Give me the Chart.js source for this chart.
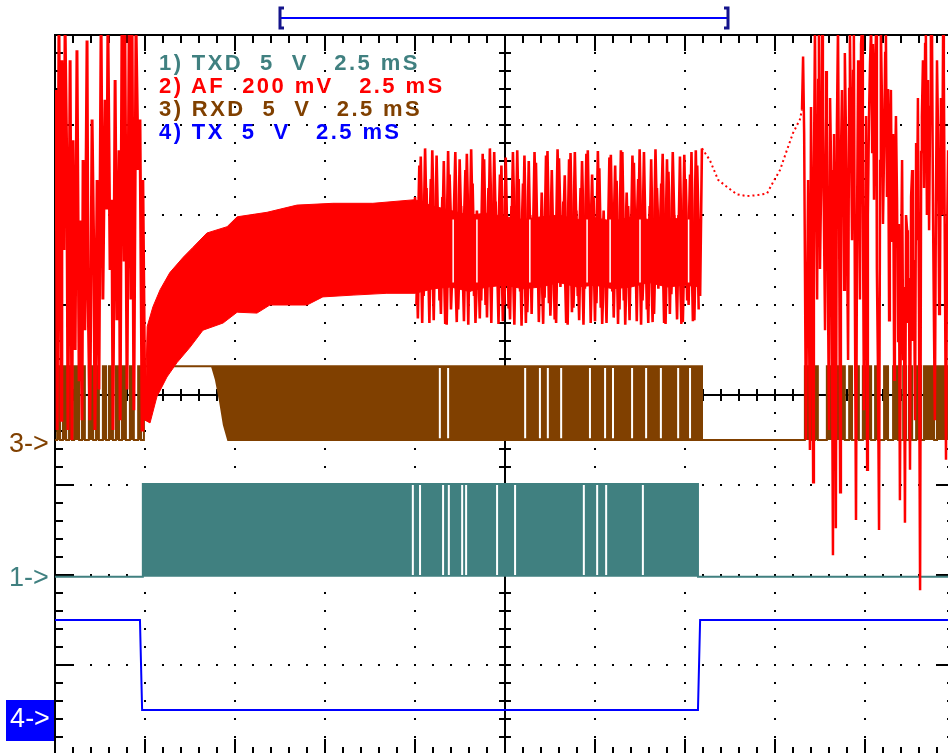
<!DOCTYPE html>
<html>
<head>
<meta charset="utf-8">
<title>TXD / AF / RXD / TX</title>
<script src="https://cdn.jsdelivr.net/npm/chart.js@4.4.1/dist/chart.umd.min.js"></script>
<style>
    html, body { margin: 0; padding: 0; background: #fff; }
    #scope { position: relative; width: 948px; height: 753px; overflow: hidden; background: #fff; }
    #scopeChart { position: absolute; left: 0; top: 0; }
    .legendRow {
        position: absolute; left: 159px;
        font: bold 22px "Liberation Sans", Arial, sans-serif;
        letter-spacing: 2.4px; line-height: 23px; white-space: pre;
    }
    .marker {
        position: absolute; left: 9px;
        font: 27px "Liberation Sans", Arial, sans-serif;
        line-height: 26px; white-space: pre;
    }
    #marker4 {
        left: 6px; top: 700px; width: 48px; height: 41px;
        background: #0000ff; color: #fff; text-align: center; line-height: 36px;
    }
</style>
</head>
<body>
<div id="scope">
    <canvas id="scopeChart" width="960" height="760"></canvas>
    <div id="legendBox"></div>
    <div class="marker" style="top: 430px; color: #804000;">3-&gt;</div>
    <div class="marker" style="top: 564px; color: #408080;">1-&gt;</div>
    <div class="marker" id="marker4">4-&gt;</div>
</div>

<script>
// x = time in mS (2.5 mS / div), y = screen divisions (0 = centre line)

const channelLabels = [
    "1) TXD  5  V   2.5 mS",
    "2) AF  200 mV   2.5 mS",
    "3) RXD  5  V   2.5 mS",
    "4) TX  5  V   2.5 mS"
];

// TX keying (ch4)
const txTrace = [[0, -2.5], [2.36, -2.5], [2.42, -3.5], [17.86, -3.5], [17.92, -2.5], [25, -2.5]];

// TXD data burst (ch1)
const txdTrace = [[0, -2.02], [2.44, -2.02], [2.44, -0.99], [17.86, -0.99], [17.86, -2.02], [25, -2.02]];
const txdGaps = [9.94, 10.14, 10.78, 10.94, 11.31, 11.42, 12.28, 12.78, 14.69, 15.06, 15.31, 16.33];

// RXD (ch3) edges, level holds until the next edge
const rxdEdgesBefore = [
    [0, -0.5], [0.06, 0.32], [0.14, -0.5], [0.22, 0.32], [0.31, -0.5], [0.39, 0.32], [0.47, -0.5],
    [0.53, 0.32], [0.67, -0.5], [0.75, 0.32], [0.83, -0.5], [0.94, 0.32], [1.06, -0.5], [1.14, 0.32],
    [1.22, -0.5], [1.33, 0.32], [1.42, -0.5], [1.5, 0.32], [1.61, -0.5], [1.69, 0.32], [1.78, -0.5],
    [1.86, 0.32], [1.97, -0.5], [2.08, 0.32], [2.19, -0.5], [2.31, 0.32], [2.39, -0.5], [2.47, 0.32]
];
const rxdIdle = [[2.47, 0.32], [4.36, 0.32]];
const rxdEdgesAfter = [
    [18.0, -0.5], [20.83, 0.32], [21.03, -0.5], [21.11, 0.32], [21.19, -0.5], [21.44, 0.32],
    [21.94, -0.5], [22.06, 0.32], [22.14, -0.5], [22.25, 0.32], [22.33, -0.5], [22.44, 0.32],
    [22.67, -0.5], [22.78, 0.32], [22.86, -0.5], [23.03, 0.32], [23.14, -0.5], [23.28, 0.32],
    [23.42, -0.5], [23.56, 0.32], [23.64, -0.5], [23.72, 0.32], [23.81, -0.5], [23.92, 0.32],
    [24.06, -0.5], [24.14, 0.32], [24.42, -0.5], [24.5, 0.32], [25, 0.32]
];
const rxdBandTop = [[4.36, 0.32], [18.0, 0.32]];
const rxdBandBottom = [[4.36, 0.32], [4.47, 0.17], [4.58, -0.06], [4.69, -0.33], [4.81, -0.5], [18.0, -0.5]];
const rxdGaps = [10.69, 10.92, 13.06, 13.47, 13.69, 14.06, 14.86, 15.28, 15.5, 16.03, 16.42, 16.83, 17.31, 17.64];

// AF (ch2) - noise before the burst
const afOnset = [
    [0.03, 3.39], [0.06, -0.39], [0.11, 4.1], [0.17, -0.28], [0.19, 3.72], [0.25, 1.61], [0.28, 4.1],
    [0.33, 2.5], [0.36, -0.39], [0.42, 3.72], [0.47, -0.5], [0.5, 2.83], [0.56, 0.5], [0.61, 3.83],
    [0.67, 0.17], [0.69, 1.94], [0.75, -0.28], [0.78, 2.61], [0.83, 0.72], [0.89, 3.94], [0.92, 1.06],
    [0.97, -0.28], [1.03, 3.06], [1.08, 1.5], [1.11, -0.39], [1.17, 2.39], [1.22, 0.06], [1.28, 4.1],
    [1.33, 1.06], [1.39, 3.28], [1.44, 2.06], [1.47, 4.1], [1.53, 1.39], [1.58, 2.17], [1.61, -0.39],
    [1.67, 3.5], [1.72, 0.83], [1.78, 2.72], [1.81, -0.28], [1.86, 4.1], [1.92, 1.5], [1.94, 4.1],
    [2.0, 0.06], [2.06, 4.1], [2.11, 1.06], [2.14, 4.1], [2.19, -0.17], [2.25, 4.1], [2.31, 2.5],
    [2.36, 3.06], [2.42, -0.39], [2.44, 2.39], [2.5, -0.28]
];

// AF tone envelope while the carrier settles
const afEnvTop = [
    [2.5, -0.28], [2.56, 0.76], [2.72, 0.98], [2.92, 1.17], [3.19, 1.36], [3.56, 1.53], [3.83, 1.64],
    [4.22, 1.8], [4.78, 1.87], [5.06, 1.98], [5.89, 2.03], [6.72, 2.11], [7.72, 2.13], [8.83, 2.13], [10.0, 2.17]
];
const afEnvBottom = [
    [2.5, -0.28], [2.64, -0.31], [2.83, -0.02], [3.11, 0.2], [3.39, 0.36], [3.75, 0.53], [4.11, 0.72],
    [4.67, 0.8], [5.06, 0.92], [5.61, 0.91], [5.97, 1.0], [7.0, 1.0], [7.44, 1.09], [8.28, 1.11],
    [9.22, 1.13], [10.0, 1.13]
];

// AF during data: solid core plus two interleaved runs of peaks
const afCoreTop = [
    [10.0, 2.17], [10.5, 2.1], [11.0, 2.05], [11.5, 2.0], [12.0, 2.02], [12.5, 1.98], [13.0, 1.95],
    [13.5, 1.98], [14.0, 2.0], [14.5, 1.95], [15.0, 1.97], [15.5, 1.93], [16.0, 1.98], [16.5, 1.95],
    [17.0, 1.97], [17.5, 1.95], [17.92, 1.9]
];
const afCoreBottom = [
    [10.0, 1.13], [10.5, 1.18], [11.0, 1.2], [11.5, 1.15], [12.0, 1.2], [12.5, 1.22], [13.0, 1.18],
    [13.5, 1.2], [14.0, 1.25], [14.5, 1.2], [15.0, 1.22], [15.5, 1.18], [16.0, 1.2], [16.5, 1.25],
    [17.0, 1.2], [17.5, 1.22], [17.92, 1.2]
];
const afCoreGaps = [11.06, 11.72, 13.19, 14.78, 15.42, 16.25, 17.6];
const afBurst = [
    [10.00, 2.20], [10.08, 0.85], [10.16, 2.65], [10.24, 1.10], [10.32, 2.30], [10.40, 0.80], [10.48, 2.72],
    [10.56, 1.25], [10.64, 1.95], [10.72, 0.90], [10.80, 2.60], [10.88, 0.78], [10.96, 2.45], [11.04, 1.35],
    [11.12, 2.70], [11.20, 0.95], [11.28, 2.10], [11.36, 0.82], [11.44, 2.68], [11.52, 1.15], [11.60, 2.35],
    [11.68, 0.80], [11.76, 1.80], [11.84, 1.05], [11.92, 2.62], [12.00, 0.86], [12.08, 2.74], [12.16, 1.30],
    [12.24, 2.15], [12.32, 0.79], [12.40, 2.55], [12.48, 1.00], [12.56, 1.90], [12.64, 0.84], [12.72, 2.70],
    [12.80, 1.20], [12.88, 2.40], [12.96, 0.77], [13.04, 2.66], [13.12, 0.92], [13.20, 2.00], [13.28, 1.40],
    [13.36, 2.58], [13.44, 0.81], [13.52, 2.25], [13.60, 1.08], [13.68, 2.71], [13.76, 0.88], [13.84, 1.75],
    [13.92, 0.80], [14.00, 2.63], [14.08, 1.28], [14.16, 2.44], [14.24, 0.78], [14.32, 2.69], [14.40, 0.97],
    [14.48, 2.05], [14.56, 0.83], [14.64, 2.60], [14.72, 1.18], [14.80, 2.72], [14.88, 0.80], [14.96, 2.20],
    [15.04, 1.02], [15.12, 2.52], [15.20, 0.79], [15.28, 1.85], [15.36, 1.33], [15.44, 2.67], [15.52, 0.86],
    [15.60, 2.38], [15.68, 0.95], [15.76, 2.70], [15.84, 0.78], [15.92, 2.10], [16.00, 1.22], [16.08, 2.58],
    [16.16, 0.82], [16.24, 2.73], [16.32, 1.05], [16.40, 1.95], [16.48, 0.80], [16.56, 2.62], [16.64, 0.90],
    [16.72, 2.30], [16.80, 1.36], [16.88, 2.68], [16.96, 0.79], [17.04, 2.48], [17.12, 1.12], [17.20, 2.00],
    [17.28, 0.84], [17.36, 2.65], [17.44, 0.81], [17.52, 2.40], [17.60, 1.00], [17.68, 2.70], [17.76, 0.83],
    [17.84, 2.55], [17.92, 1.10], [17.97, 2.74]
];
const afBurstB = [
    [10.04, 1.00], [10.12, 2.55], [10.20, 0.80], [10.28, 2.74], [10.36, 1.20], [10.44, 2.40], [10.52, 0.83],
    [10.60, 2.66], [10.68, 1.05], [10.76, 2.20], [10.84, 0.79], [10.92, 2.71], [11.00, 0.95], [11.08, 1.85],
    [11.16, 0.81], [11.24, 2.62], [11.32, 1.30], [11.40, 2.50], [11.48, 0.78], [11.56, 2.73], [11.64, 1.10],
    [11.72, 2.05], [11.80, 0.85], [11.88, 2.68], [11.96, 1.00], [12.04, 2.30], [12.12, 0.80], [12.20, 2.70],
    [12.28, 1.25], [12.36, 2.45], [12.44, 0.82], [12.52, 2.64], [12.60, 0.96], [12.68, 2.10], [12.76, 0.78],
    [12.84, 2.72], [12.92, 1.15], [13.00, 2.35], [13.08, 0.80], [13.16, 2.60], [13.24, 0.90], [13.32, 2.70],
    [13.40, 1.32], [13.48, 1.95], [13.56, 0.79], [13.64, 2.66], [13.72, 1.02], [13.80, 2.50], [13.88, 0.84],
    [13.96, 2.73], [14.04, 1.20], [14.12, 2.15], [14.20, 0.80], [14.28, 2.62], [14.36, 0.92], [14.44, 2.70],
    [14.52, 1.10], [14.60, 2.30], [14.68, 0.78], [14.76, 2.68], [14.84, 1.25], [14.92, 2.45], [15.00, 0.82],
    [15.08, 2.71], [15.16, 0.97], [15.24, 2.05], [15.32, 0.80], [15.40, 2.64], [15.48, 1.15], [15.56, 2.55],
    [15.64, 0.79], [15.72, 2.72], [15.80, 1.05], [15.88, 2.25], [15.96, 0.83], [16.04, 2.66], [16.12, 1.30],
    [16.20, 2.40], [16.28, 0.78], [16.36, 2.70], [16.44, 0.95], [16.52, 2.10], [16.60, 0.81], [16.68, 2.73],
    [16.76, 1.18], [16.84, 2.35], [16.92, 0.80], [17.00, 2.62], [17.08, 0.90], [17.16, 2.70], [17.24, 1.28],
    [17.32, 2.00], [17.40, 0.79], [17.48, 2.67], [17.56, 1.05], [17.64, 2.45], [17.72, 0.82], [17.80, 2.72],
    [17.88, 0.95]
];

// AF after TX drops (squelch tail, then noise)
const afTail = [
    [17.97, 2.74], [18.19, 2.61], [18.42, 2.39], [18.67, 2.31], [18.94, 2.23], [19.22, 2.21], [19.5, 2.22],
    [19.78, 2.24], [19.94, 2.36], [20.14, 2.5], [20.33, 2.72], [20.5, 2.91], [20.69, 3.06], [20.75, 3.17]
];
const afNoise = [
    [20.75, 3.17], [20.78, 3.76], [20.81, 2.9], [20.86, -0.5], [20.92, 2.39], [20.97, -0.61], [21.0, 3.2],
    [21.03, 1.61], [21.06, -0.97], [21.08, 2.4], [21.11, 4.1], [21.14, 2.2], [21.17, 1.06], [21.2, 3.5],
    [21.22, 4.1], [21.25, 1.4], [21.28, 2.28], [21.31, 4.1], [21.33, 3.1], [21.36, 1.9], [21.39, 0.72],
    [21.42, 3.6], [21.44, 3.06], [21.47, 1.2], [21.5, -0.39], [21.53, 3.3], [21.56, 2.5], [21.58, 0.9],
    [21.61, -1.78], [21.64, 2.9], [21.67, 1.61], [21.69, -1.48], [21.72, 3.0], [21.75, 4.1], [21.78, 2.1],
    [21.81, -1.08], [21.83, 2.6], [21.86, 3.39], [21.89, 2.4], [21.92, 1.17], [21.94, 3.8], [21.97, 2.94],
    [22.0, 1.8], [22.03, 0.39], [22.06, 3.4], [22.08, 4.1], [22.11, 2.9], [22.14, 1.72], [22.17, 3.6],
    [22.19, 4.1], [22.22, 1.0], [22.25, -1.39], [22.28, 2.0], [22.31, 3.72], [22.33, 2.6], [22.36, 1.06],
    [22.39, 3.9], [22.42, 4.1], [22.44, 2.2], [22.47, -0.17], [22.5, 1.5], [22.53, 3.1], [22.56, -0.83],
    [22.58, 2.0], [22.61, 3.06], [22.64, 3.7], [22.67, 4.1], [22.7, 2.7], [22.72, 3.9], [22.75, 2.17],
    [22.78, 3.6], [22.81, 4.1], [22.83, 1.4], [22.86, 0.3], [22.89, -1.5], [22.92, 2.6], [22.94, 4.1],
    [22.97, 3.3], [23.0, 1.9], [23.03, 2.72], [23.06, 3.8], [23.08, 4.1], [23.11, 2.2], [23.14, 3.4],
    [23.17, 0.83], [23.19, 2.8], [23.22, 3.39], [23.25, 1.7], [23.28, 2.9], [23.31, 0.17], [23.33, 2.4],
    [23.36, 3.1], [23.39, 2.17], [23.42, 0.6], [23.44, 1.9], [23.47, -1.17], [23.5, 1.4], [23.53, 2.61],
    [23.56, 0.4], [23.58, 1.2], [23.61, -1.42], [23.64, 2.0], [23.67, 1.83], [23.69, 0.8], [23.72, 1.3],
    [23.75, -0.83], [23.78, 2.2], [23.81, 2.5], [23.83, 0.6], [23.86, 1.5], [23.89, -0.28], [23.92, 2.8],
    [23.94, 1.72], [23.97, 3.3], [24.0, 0.9], [24.03, -2.17], [24.06, 2.7], [24.08, 3.1], [24.11, 3.72],
    [24.14, 2.3], [24.17, 3.9], [24.19, 4.1], [24.22, 2.0], [24.25, 3.5], [24.28, 1.83], [24.31, 3.2],
    [24.33, 4.1], [24.36, 4.1], [24.39, 2.0], [24.42, 0.6], [24.44, -0.28], [24.47, 2.1], [24.5, 3.72],
    [24.53, 2.9], [24.56, 0.9], [24.58, 1.06], [24.61, 3.3], [24.64, 2.0], [24.67, 4.1], [24.69, 3.6],
    [24.72, 1.4], [24.75, -0.72], [24.78, 1.8], [24.81, 2.72]
];

// memory window marker above the screen
const windowStart = 6.25;
const windowEnd = 18.7;

const RED = "#ff0000";
const TEAL = "#408080";
const BROWN = "#804000";
const BLUE = "#0000ff";
const legendColors = [TEAL, RED, BROWN, BLUE];

function toPoints(pairs) {
    return pairs.map(([x, y]) => ({ x, y }));
}

// white cuts through a filled trace, one short line per time
function gapPoints(times, top, bottom) {
    const pts = [];
    times.forEach(t => {
        pts.push({ x: t, y: top }, { x: t, y: bottom }, { x: t, y: null });
    });
    return pts;
}

//  Graticule: frame, centre cross and tick marks (dots come from the grid)
const scopeGraticule = {
    id: "scopeGraticule",
    beforeDatasetsDraw(chart) {
        const { ctx, chartArea: a, scales: { x, y } } = chart;
        const cx = x.getPixelForValue(12.5);
        const cy = y.getPixelForValue(0);

        ctx.save();
        ctx.strokeStyle = "#000";
        ctx.lineWidth = 2;
        ctx.beginPath();
        ctx.moveTo(a.left, a.bottom);
        ctx.lineTo(a.left, a.top);
        ctx.lineTo(a.right, a.top);
        ctx.lineTo(a.right, a.bottom);
        ctx.moveTo(cx, a.top);
        ctx.lineTo(cx, a.bottom);
        ctx.moveTo(a.left, cy);
        ctx.lineTo(a.right, cy);

        for (let i = 0; i <= 50; i++) {
            const px = Math.round(x.getPixelForValue(i * 0.5));
            const len = i % 5 === 0 ? 16 : 8;
            ctx.moveTo(px, a.top);
            ctx.lineTo(px, a.top + len);
            ctx.moveTo(px, a.bottom);
            ctx.lineTo(px, a.bottom - len);
            ctx.moveTo(px, cy - 6);
            ctx.lineTo(px, cy + 6);
        }
        for (let i = 0; i <= 40; i++) {
            const py = Math.round(y.getPixelForValue(-4 + i * 0.2));
            const len = i % 5 === 0 ? 18 : 8;
            ctx.moveTo(a.left, py);
            ctx.lineTo(a.left + len, py);
            ctx.moveTo(a.right, py);
            ctx.lineTo(a.right - len, py);
            ctx.moveTo(cx - 6, py);
            ctx.lineTo(cx + 6, py);
        }
        ctx.stroke();
        ctx.restore();
    },
    afterDraw(chart) {
        const { ctx, chartArea: a, scales: { x } } = chart;
        const x1 = Math.round(x.getPixelForValue(windowStart));
        const x2 = Math.round(x.getPixelForValue(windowEnd));
        const by = a.top - 17;

        ctx.save();
        ctx.strokeStyle = BLUE;
        ctx.lineWidth = 2;
        ctx.beginPath();
        ctx.moveTo(x1, by);
        ctx.lineTo(x2, by);
        ctx.stroke();

        ctx.strokeStyle = "#14148c";
        ctx.lineWidth = 3;
        ctx.beginPath();
        ctx.moveTo(x1 + 4, by - 10);
        ctx.lineTo(x1, by - 10);
        ctx.lineTo(x1, by + 10);
        ctx.lineTo(x1 + 4, by + 10);
        ctx.moveTo(x2 - 4, by - 10);
        ctx.lineTo(x2, by - 10);
        ctx.lineTo(x2, by + 10);
        ctx.lineTo(x2 - 4, by + 10);
        ctx.stroke();
        ctx.restore();
    }
};

function buildLegend() {
    const box = document.getElementById("legendBox");
    channelLabels.forEach((text, i) => {
        const row = document.createElement("div");
        row.className = "legendRow";
        row.style.top = (51 + i * 23) + "px";
        row.style.color = legendColors[i];
        row.textContent = text;
        box.appendChild(row);
    });
}

function drawScope() {
    const ctx = document.getElementById("scopeChart").getContext("2d");

    const datasets = [
        // white cuts drawn over the red core
        { label: "gaps", data: gapPoints(afCoreGaps, 1.95, 1.25), borderColor: "#fff", borderWidth: 1.5, order: -1 },

        // AF on top of the other traces
        { label: "AF", data: toPoints(afOnset), borderColor: RED, borderWidth: 3, order: 0 },
        { label: "AF", data: toPoints(afEnvTop), borderColor: RED, backgroundColor: RED, borderWidth: 1, fill: "+1", order: 0 },
        { label: "AF", data: toPoints(afEnvBottom), borderColor: RED, borderWidth: 1, order: 0 },
        { label: "AF", data: toPoints(afCoreTop), borderColor: RED, backgroundColor: RED, borderWidth: 1, fill: "+1", order: 0 },
        { label: "AF", data: toPoints(afCoreBottom), borderColor: RED, borderWidth: 1, order: 0 },
        { label: "AF", data: toPoints(afBurst), borderColor: RED, borderWidth: 2.6, order: 0 },
        { label: "AF", data: toPoints(afBurstB), borderColor: RED, borderWidth: 2.6, order: 0 },
        { label: "AF", data: toPoints(afTail), borderColor: RED, borderWidth: 2, borderDash: [2, 3], order: 0 },
        { label: "AF", data: toPoints(afNoise), borderColor: RED, borderWidth: 2.5, order: 0 },

        // cuts in the filled digital traces
        { label: "gaps", data: gapPoints(txdGaps, -1.0, -2.0), borderColor: "#fff", borderWidth: 2, order: 1 },
        { label: "gaps", data: gapPoints(rxdGaps, 0.3, -0.48), borderColor: "#fff", borderWidth: 2, order: 1 },

        { label: "RXD", data: toPoints(rxdEdgesBefore), borderColor: BROWN, backgroundColor: BROWN, borderWidth: 2, stepped: true, fill: { value: -0.5 }, order: 2 },
        { label: "RXD", data: toPoints(rxdIdle), borderColor: BROWN, borderWidth: 2, order: 2 },
        { label: "RXD", data: toPoints(rxdEdgesAfter), borderColor: BROWN, backgroundColor: BROWN, borderWidth: 2, stepped: true, fill: { value: -0.5 }, order: 2 },
        { label: "RXD", data: toPoints(rxdBandTop), borderColor: BROWN, backgroundColor: BROWN, borderWidth: 2, fill: "+1", order: 2 },
        { label: "RXD", data: toPoints(rxdBandBottom), borderColor: BROWN, borderWidth: 2, order: 2 },
        { label: "TXD", data: toPoints(txdTrace), borderColor: TEAL, backgroundColor: TEAL, borderWidth: 2, fill: { value: -2.02 }, order: 2 },
        { label: "TX", data: toPoints(txTrace), borderColor: BLUE, borderWidth: 2, order: 2 }
    ];

    const gridStyle = { color: "#000", lineWidth: 2, drawTicks: false };
    const dotted = { display: false, dash: [2, 16], dashOffset: 1 };

    new Chart(ctx, {
        type: "line",
        data: { datasets },
        options: {
            responsive: false,
            animation: false,
            events: [],
            layout: { padding: { left: 55, top: 35, right: 5, bottom: 5 } },
            elements: {
                point: { radius: 0 },
                line: { tension: 0, borderCapStyle: "butt" }
            },
            plugins: {
                legend: { display: false },
                tooltip: { enabled: false }
            },
            scales: {
                x: {
                    type: "linear", min: 0, max: 25,
                    ticks: { display: false, stepSize: 2.5 },
                    grid: gridStyle,
                    border: dotted
                },
                y: {
                    type: "linear", min: -4, max: 4,
                    ticks: { display: false, stepSize: 1 },
                    grid: gridStyle,
                    border: dotted
                }
            }
        },
        plugins: [scopeGraticule]
    });
}

document.addEventListener("DOMContentLoaded", () => {
    buildLegend();
    drawScope();
});
</script>
</body>
</html>
